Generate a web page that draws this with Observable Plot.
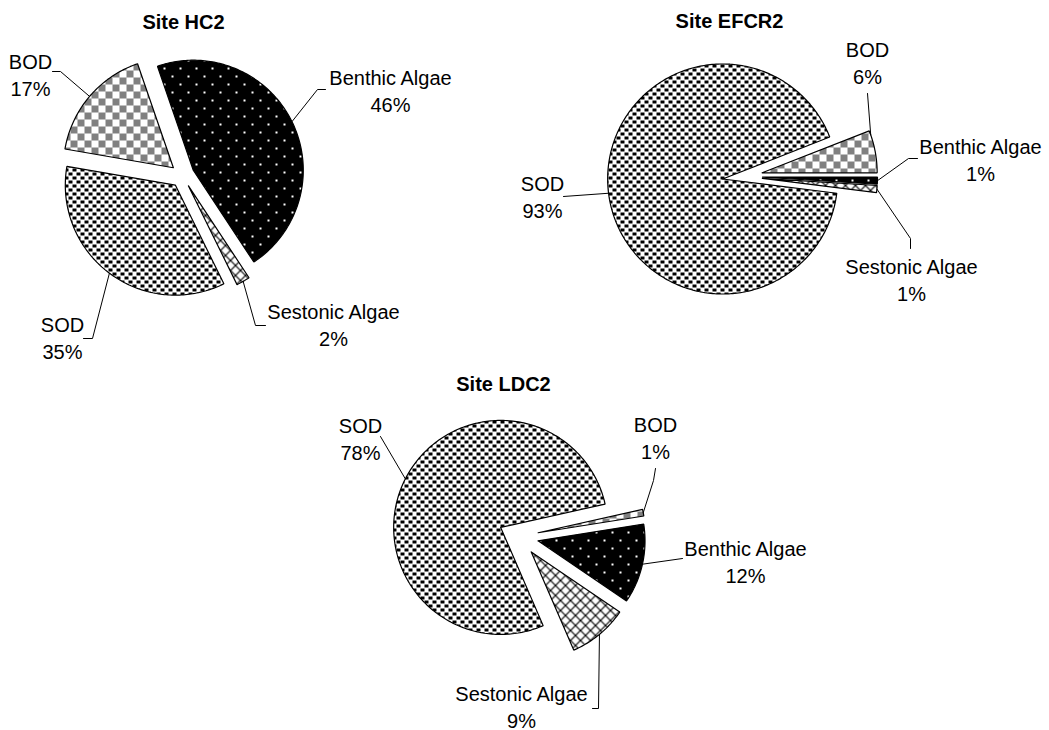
<!DOCTYPE html>
<html>
<head>
<meta charset="utf-8">
<script src="https://cdn.jsdelivr.net/npm/d3@7"></script>
<script src="https://cdn.jsdelivr.net/npm/@observablehq/plot@0.6"></script>
<style>
  html, body { margin: 0; padding: 0; background: #fff; }
  #chart svg { display: block; }
</style>
</head>
<body>
<div id="chart"></div>
<script>
// ---------- Data ----------
const sites = ["Site HC2", "Site EFCR2", "Site LDC2"];
const categories = ["Benthic Algae", "Sestonic Algae", "SOD", "BOD"];
const hc2Values = [46, 2, 35, 17];
const efcr2Values = [1, 1, 93, 6];
const ldc2Values = [12, 9, 78, 1];
const siteValues = [hc2Values, efcr2Values, ldc2Values];

// ---------- Layout (positions / sizes only) ----------
const W = 1049, H = 730;
const pieLayout = [
  {cx: 182, cy: 175, r: 110, explode: 12, start: -19},
  {cx: 742, cy: 176, r: 115, explode: 20, start: 90},
  {cx: 518, cy: 536, r: 107, explode: 20, start: 81}
];
const titlePos = [[183, 28], [729, 27], [503, 390]];
// label anchor (center x, last-line baseline y) and leader-line bend points
const labelLayout = [
  [
    {x: 390, y: 111, leader: [[317, 89], [325, 89]]},
    {x: 333, y: 345, leader: [[255, 325], [265, 325]]},
    {x: 62, y: 358, leader: [[92, 338], [83, 338]]},
    {x: 30, y: 95, leader: [[60, 71], [52, 71]]}
  ],
  [
    {x: 980, y: 180, leader: [[908, 158], [917, 158]]},
    {x: 911, y: 300, leader: [[910, 238], [910, 248]]},
    {x: 542, y: 217, leader: [[563, 196]]},
    {x: 867, y: 83, t: 0.1, leader: [[867, 93]]}
  ],
  [
    {x: 745, y: 582, leader: [[682, 558]]},
    {x: 521, y: 727, leader: [[598, 708], [592, 708]]},
    {x: 360, y: 459, leader: [[380, 436]]},
    {x: 655, y: 458, leader: [[653, 480], [655, 468]]}
  ]
];
const patternIds = ["p-benthic", "p-sestonic", "p-sod", "p-bod"];

// ---------- Geometry from data ----------
const rad = d => d * Math.PI / 180;
const dir = a => [Math.sin(rad(a)), -Math.cos(rad(a))];

const slicePoints = [];
const leaderPoints = [];
const labels = [];
const titles = sites.map((s, i) => ({text: s, x: titlePos[i][0], y: titlePos[i][1]}));

siteValues.forEach((vals, si) => {
  const L = pieLayout[si];
  const total = d3.sum(vals);
  let a = L.start;
  vals.forEach((v, ci) => {
    const span = v / total * 360;
    const a0 = a, a1 = a + span, mid = (a0 + a1) / 2;
    a = a1;
    const [ex, ey] = dir(mid);
    const ax = L.cx + L.explode * ex, ay = L.cy + L.explode * ey;
    const key = si + "-" + ci;
    const pts = [[ax, ay]];
    const steps = Math.max(2, Math.ceil(span));
    for (let k = 0; k <= steps; k++) {
      const t = a0 + (a1 - a0) * k / steps;
      const [dx, dy] = dir(t);
      pts.push([ax + L.r * dx, ay + L.r * dy]);
    }
    pts.push([ax, ay]);
    pts.forEach(([x, y], j) => slicePoints.push({key, cat: ci, x, y, j}));

    const lab = labelLayout[si][ci];
    const la = a0 + (a1 - a0) * (lab.t ?? 0.5);
    const [lx, ly] = dir(la);
    const lpts = [[ax + L.r * lx, ay + L.r * ly], ...lab.leader];
    lpts.forEach(([x, y]) => leaderPoints.push({key, x, y}));
    labels.push({x: lab.x, y: lab.y, text: categories[ci] + "\n" + v + "%"});
  });
});

const font = "'Liberation Sans', Arial, Helvetica, sans-serif";

const plot = Plot.plot({
  width: W,
  height: H,
  margin: 0,
  x: {domain: [0, W], range: [0, W], axis: null},
  y: {domain: [0, H], range: [0, H], axis: null},
  style: {fontFamily: font, background: "#fff", color: "#000"},
  marks: [
    ...categories.map((c, ci) =>
      Plot.line(slicePoints.filter(d => d.cat === ci), {
        x: "x", y: "y", z: "key",
        fill: `url(#${patternIds[ci]})`,
        stroke: "#000", strokeWidth: 1.2, strokeLinejoin: "miter"
      })
    ),
    Plot.line(leaderPoints, {x: "x", y: "y", z: "key", stroke: "#000", strokeWidth: 1}),
    Plot.text(labels, {
      x: "x", y: "y", text: "text",
      textAnchor: "middle", lineAnchor: "bottom",
      fontSize: 20, lineHeight: 1.35, fill: "#000", fontFamily: font
    }),
    Plot.text(titles, {
      x: "x", y: "y", text: "text",
      textAnchor: "middle", lineAnchor: "bottom",
      fontSize: 20, fontWeight: "bold", fill: "#000", fontFamily: font
    })
  ]
});

const defs = `
<defs>
  <pattern id="p-benthic" width="16" height="16" patternUnits="userSpaceOnUse" shape-rendering="crispEdges">
    <rect width="16" height="16" fill="#000"/>
    <rect x="3" y="3" width="2" height="2" fill="#fff"/>
    <rect x="11" y="11" width="2" height="2" fill="#fff"/>
  </pattern>
  <pattern id="p-sestonic" width="10" height="10" patternUnits="userSpaceOnUse">
    <rect width="10" height="10" fill="#fff"/>
    <path d="M-1,-1L11,11M11,-1L-1,11" stroke="#000" stroke-width="1.2"/>
  </pattern>
  <pattern id="p-sod" width="8" height="8" patternUnits="userSpaceOnUse" shape-rendering="crispEdges">
    <rect width="8" height="8" fill="#fff"/>
    <rect x="0" y="0" width="4" height="3" fill="#000"/>
    <rect x="4" y="4" width="4" height="3" fill="#000"/>
  </pattern>
  <pattern id="p-bod" width="14" height="14" patternUnits="userSpaceOnUse" shape-rendering="crispEdges">
    <rect width="14" height="14" fill="#fff"/>
    <rect x="0" y="0" width="7" height="7" fill="#808080"/>
    <rect x="7" y="7" width="7" height="7" fill="#808080"/>
  </pattern>
</defs>`;
plot.insertAdjacentHTML("afterbegin", defs);
document.getElementById("chart").appendChild(plot);
</script>
</body>
</html>
